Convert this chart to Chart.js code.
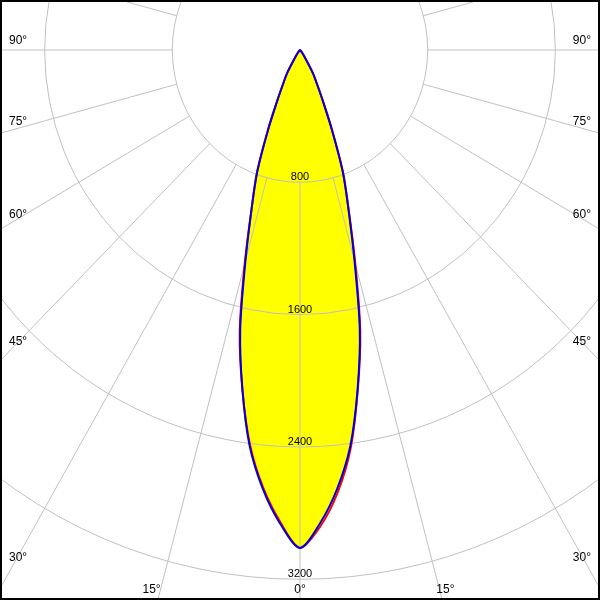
<!DOCTYPE html>
<html lang="en">
<head>
  <meta charset="UTF-8">
  <title>Luminous intensity distribution</title>
  <script src="https://cdn.jsdelivr.net/npm/chart.js"></script>
  <style>
    body { margin: 0; padding: 0; background: #fff; }
    .frame { width: 600px; height: 600px; box-sizing: border-box; border: 2px solid #000; }
    canvas { display: block; }
  </style>
</head>
<body>
  <div class="frame"><canvas id="polar" width="596" height="596"></canvas></div>

  <script>
    // gamma angles (deg from nadir) and intensities (cd)
    const angles = [0, 2.5, 5, 7.5, 10, 12.5, 15, 17.5, 20, 22.5, 25, 27.5, 30, 35, 40, 45, 50, 60, 70, 80, 90];
    const c90  = [3010, 2865, 2665, 2415, 2080, 1730, 1320, 1010, 785, 525, 333, 225, 160, 45, 15, 6, 3, 1, 0, 0, 0];
    const c0   = [3010, 2885, 2690, 2430, 2085, 1745, 1340, 1015, 785, 525, 340, 230, 160, 45, 15, 6, 3, 1, 0, 0, 0];
    const c180 = [3010, 2855, 2655, 2405, 2080, 1745, 1340, 1010, 785, 525, 333, 225, 160, 45, 15, 6, 3, 1, 0, 0, 0];

    const rings = [800, 1600, 2400, 3200];
    const sideTicks = [90, 75, 60, 45, 30];
    const bottomTicks = [-15, 0, 15];

    // left half runs 90 -> 0, right half 0 -> 90
    const toPoints = (left, right) => {
      const pts = [];
      for (let i = angles.length - 1; i >= 0; i--) {
        const t = angles[i] * Math.PI / 180;
        pts.push({ x: -left[i] * Math.sin(t), y: left[i] * Math.cos(t) });
      }
      for (let i = 1; i < angles.length; i++) {
        const t = angles[i] * Math.PI / 180;
        pts.push({ x: right[i] * Math.sin(t), y: right[i] * Math.cos(t) });
      }
      return pts;
    };

    const polarGrid = {
      id: 'polarGrid',
      beforeDatasetsDraw(chart) {
        const { ctx, chartArea: a, scales: { x, y } } = chart;
        const cx = x.getPixelForValue(0), cy = y.getPixelForValue(0);
        const at = (r, deg) => {
          const t = deg * Math.PI / 180;
          return [x.getPixelForValue(r * Math.sin(t)), y.getPixelForValue(r * Math.cos(t))];
        };

        ctx.save();
        ctx.beginPath();
        ctx.rect(a.left, a.top, a.right - a.left, a.bottom - a.top);
        ctx.clip();

        // yellow body of the blue curve
        const meta = chart.getDatasetMeta(0);
        ctx.beginPath();
        let done = false;
        try {
          meta.dataset.updateControlPoints(a, 'x');
          meta.dataset.path(ctx);
          done = true;
        } catch (e) { ctx.beginPath(); }
        if (!done) meta.data.forEach((p, i) => i ? ctx.lineTo(p.x, p.y) : ctx.moveTo(p.x, p.y));
        ctx.closePath();
        ctx.fillStyle = '#ffff00';
        ctx.fill();

        // rings
        ctx.strokeStyle = '#c0c0c0';
        ctx.lineWidth = 1;
        rings.forEach(r => {
          const rx = x.getPixelForValue(r) - cx, ry = y.getPixelForValue(r) - cy;
          ctx.beginPath();
          ctx.ellipse(cx, cy, rx, ry, 0, 0, 2 * Math.PI);
          ctx.stroke();
        });

        // spokes every 15 deg, starting at the first ring
        for (let d = 0; d < 360; d += 15) {
          const [x0, y0] = at(rings[0], d);
          const [x1, y1] = at(rings[rings.length - 1] * 3, d);
          ctx.beginPath();
          ctx.moveTo(x0, y0);
          ctx.lineTo(x1, y1);
          ctx.stroke();
        }

        ctx.fillStyle = '#000';

        // ring values
        ctx.font = '11px Arial, "Liberation Sans", sans-serif';
        ctx.textAlign = 'center';
        ctx.textBaseline = 'alphabetic';
        rings.forEach(r => ctx.fillText(String(r), cx, y.getPixelForValue(r) - 2));

        // side angle labels, sitting on their spokes near the frame
        ctx.font = '12px Arial, "Liberation Sans", sans-serif';
        ctx.textBaseline = 'middle';
        sideTicks.forEach(d => {
          const [px, py] = at(1000, d);
          const lx = a.left + 16;
          const t = (cx - lx) / (px - cx);
          const ly = cy + t * (py - cy) - 0.19 * (d - 40);
          ctx.textAlign = 'left';
          ctx.fillText(d + '°', a.left + 7, ly);
          ctx.textAlign = 'right';
          ctx.fillText(d + '°', a.right - 7, ly);
        });

        // bottom angle labels
        ctx.textBaseline = 'alphabetic';
        bottomTicks.forEach(d => {
          const [px, py] = at(1000, d);
          const ty = a.bottom - 9;
          const lx = cx + (ty - cy) / (py - cy) * (px - cx);
          if (d < 0) { ctx.textAlign = 'right'; ctx.fillText(Math.abs(d) + '°', lx, a.bottom - 5); }
          else if (d > 0) { ctx.textAlign = 'left'; ctx.fillText(d + '°', lx - 3, a.bottom - 5); }
          else { ctx.textAlign = 'center'; ctx.fillText('0°', lx, a.bottom - 5); }
        });

        ctx.restore();
      }
    };

    new Chart(document.getElementById('polar'), {
      type: 'scatter',
      data: {
        datasets: [
          { label: 'C90 - C270', data: toPoints(c90, c90), showLine: true, borderColor: '#0000dd', borderWidth: 2, pointRadius: 0, tension: 0.3, fill: false },
          { label: 'C0 - C180', data: toPoints(c180, c0), showLine: true, borderColor: '#ff0000', borderWidth: 2, pointRadius: 0, tension: 0.3, fill: false }
        ]
      },
      options: {
        responsive: false,
        animation: false,
        events: [],
        layout: { padding: 0 },
        plugins: { legend: { display: false }, tooltip: { enabled: false } },
        scales: {
          x: { type: 'linear', display: false, min: -1867, max: 1867 },
          y: { type: 'linear', display: false, reverse: true, min: -290, max: 3313 }
        }
      },
      plugins: [polarGrid]
    });
  </script>
</body>
</html>
